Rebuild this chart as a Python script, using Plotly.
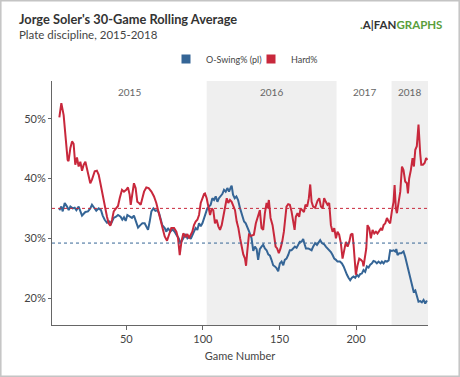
import plotly.graph_objects as go

# ---------------- data ----------------
oswing_games = [6.3, 7.6, 8.5, 9.8, 11.3, 12.4, 13.5, 15.0, 16.3, 17.4, 18.9, 20.0, 21.1, 22.2, 23.3, 25.0,
                26.5, 27.6, 29.1, 30.4, 32.0, 33.5, 34.6, 35.9, 37.4, 38.9, 40.2, 41.8, 43.3, 44.6, 46.3, 47.4,
                48.5, 49.6, 50.7, 52.2, 53.7, 55.0, 56.1, 57.7, 59.2, 60.5, 62.0, 63.3, 64.2, 65.3, 66.4, 67.7,
                69.0, 70.3, 71.4, 72.5, 73.5, 75.1, 76.2, 77.2, 78.8, 80.1, 81.6, 82.7, 84.2, 85.5, 87.0, 88.8,
                89.9, 91.0, 92.1, 93.1, 94.2, 95.3, 96.4, 97.5, 98.6, 99.7, 100.8, 101.8, 102.9, 104.0, 105.1,
                106.2, 107.3, 108.4, 109.5, 110.5, 111.6, 112.7, 113.8, 114.9, 116.0, 117.1, 118.2, 118.8, 119.7,
                120.8, 121.9, 123.0, 124.3, 125.8, 126.9, 128.0, 129.0, 130.1, 131.8, 132.9, 134.0, 135.1, 136.1,
                137.2, 138.3, 139.4, 140.5, 141.6, 142.7, 143.8, 144.8, 145.9, 147.0, 148.1, 149.2, 150.3, 151.4,
                152.5, 153.5, 154.6, 155.7, 156.8, 157.9, 159.0, 160.1, 161.2, 162.2, 163.3, 164.4, 165.5, 166.2,
                167.3, 168.8, 169.9, 171.0, 172.0, 173.3, 174.5, 175.5, 176.6, 177.7, 179.2, 180.3, 181.4, 182.5,
                183.6, 184.7, 185.8, 186.9, 187.9, 189.5, 190.8, 191.9, 193.0, 194.1, 195.1, 196.2, 197.3, 198.4,
                199.5, 200.6, 201.7, 202.7, 203.8, 204.9, 206.0, 207.1, 208.2, 209.3, 210.4, 211.4, 212.5, 213.6,
                214.7, 216.0, 216.9, 218.0, 219.1, 220.2, 221.3, 222.3, 223.4, 224.5, 225.6, 226.3, 227.1, 228.2,
                229.5, 231.0, 232.1, 233.2, 234.3, 235.4, 236.5, 237.6, 238.7, 239.7, 240.8, 241.9, 243.0, 244.1,
                245.2, 246.3]
oswing_pct = [34.7, 35.3, 34.5, 35.9, 35.3, 34.7, 35.3, 35.0, 35.1, 34.7, 35.3, 34.5, 33.8, 34.1, 34.4, 34.5,
              35.0, 35.6, 35.0, 34.6, 35.0, 34.7, 33.8, 33.1, 32.6, 32.8, 32.5, 33.4, 33.6, 33.9, 33.6, 33.1,
              33.5, 32.9, 33.9, 33.6, 33.4, 33.8, 32.9, 31.8, 32.2, 32.5, 32.5, 31.7, 31.4, 32.8, 34.5, 35.0,
              34.6, 34.7, 34.2, 33.2, 32.2, 31.7, 31.1, 31.7, 31.1, 31.5, 31.1, 30.6, 30.0, 29.2, 30.0, 30.7,
              30.0, 30.3, 29.9, 30.6, 31.1, 31.7, 31.4, 32.5, 32.0, 32.5, 33.4, 34.2, 35.0, 35.3, 35.6,
              36.7, 36.4, 37.0, 36.1, 36.7, 37.0, 37.4, 38.1, 37.8, 38.4, 37.8, 38.5, 38.8, 37.3,
              36.7, 37.0, 36.4, 35.0, 33.6, 32.8, 32.5, 32.0, 31.2, 30.0, 27.9, 28.6, 28.2, 26.4,
              28.2, 28.6, 28.9, 28.3, 28.0, 27.3, 27.1, 26.4, 25.5, 25.3, 25.0, 24.5, 25.8, 26.1,
              25.5, 26.4, 26.6, 27.2, 28.0, 28.0, 28.3, 28.6, 28.4, 28.9, 29.4, 29.4, 29.9, 29.2,
              28.3, 28.3, 28.2, 28.0, 28.6, 29.2, 28.9, 29.4, 29.7, 29.2, 29.0, 28.6, 28.3, 28.0,
              27.7, 27.2, 26.6, 26.4, 26.1, 26.1, 25.8, 25.3, 24.4, 23.9, 23.4, 23.0, 23.4, 23.6,
              23.4, 23.9, 23.6, 24.0, 24.1, 24.7, 24.4, 25.3, 25.1, 25.6, 25.8, 26.2, 26.1, 25.8,
              26.1, 25.8, 26.1, 25.8, 26.2, 26.1, 26.3, 28.0, 27.9, 28.0, 27.8, 28.2, 27.2, 27.5,
              27.5, 27.8, 26.9, 25.8, 24.4, 23.3, 22.2, 21.1, 21.3, 20.5, 19.4, 19.5, 19.3, 19.7,
              19.1, 19.6]

hard_games = [6.3, 7.6, 9.1, 10.6, 11.7, 12.3, 13.5, 14.6, 15.6, 16.7, 17.8, 18.9, 20.0, 21.1, 22.2, 23.3,
              24.4, 25.4, 26.5, 27.6, 29.4, 30.8, 32.0, 33.1, 34.1, 35.2, 36.3, 37.4, 38.5, 39.6, 40.7, 41.8,
              43.3, 44.6, 45.7, 47.2, 48.5, 50.0, 51.1, 52.2, 52.9, 54.0, 55.0, 56.1, 57.2, 58.3, 59.4, 60.5,
              61.6, 63.1, 64.6, 66.4, 68.1, 69.6, 71.1, 72.5, 74.0, 75.1, 76.6, 77.9, 79.4, 81.2, 82.7, 83.8,
              84.9, 86.0, 87.2, 88.8, 89.9, 91.0, 92.1, 93.1, 94.2, 95.3, 96.4, 97.5, 98.6, 99.7, 100.8, 101.4,
              102.5, 103.6, 104.7, 105.8, 106.8, 107.9, 109.0, 110.1, 111.2, 112.3, 113.4, 114.5, 115.6, 116.6,
              117.7, 118.8, 119.9, 121.0, 122.1, 123.2, 124.3, 125.3, 126.4, 127.5, 128.2, 129.0, 130.1, 131.5,
              133.3, 134.6, 136.1, 137.2, 138.3, 139.4, 140.5, 141.6, 142.2, 143.1, 144.2, 145.5, 146.6, 147.5,
              148.5, 149.6, 150.7, 151.8, 152.9, 153.8, 154.6, 155.7, 156.8, 157.9, 159.0, 159.9, 160.7, 161.8,
              162.9, 163.8, 164.9, 166.0, 167.0, 168.1, 169.2, 170.1, 171.0, 172.0, 173.3, 174.9, 176.0, 177.1,
              178.2, 179.2, 180.3, 181.4, 182.5, 183.6, 184.7, 185.8, 186.9, 187.9, 189.0, 190.1, 191.2, 192.3,
              193.4, 194.5, 195.6, 196.6, 197.7, 198.4, 199.3, 199.9, 201.0, 202.1, 203.2, 204.3, 204.9, 205.8,
              206.7, 207.5, 208.6, 209.7, 210.8, 211.9, 213.0, 214.0, 215.1, 216.4, 217.0, 218.0, 219.1, 220.2,
              221.3, 222.3, 223.4, 224.5, 225.2, 226.0, 226.7, 227.8, 228.9, 230.0, 231.0, 232.1, 233.2, 233.9,
              234.7, 235.8, 236.9, 237.8, 238.7, 239.7, 240.8, 241.9, 242.6, 243.7, 244.8, 245.8, 246.7]
hard_pct = [50.2, 52.6, 50.6, 46.7, 43.1, 42.9, 45.1, 46.2, 45.8, 42.3, 43.5, 42.0, 42.8, 41.3, 42.3, 42.8,
            41.7, 40.6, 39.2, 39.8, 41.2, 41.3, 40.6, 39.2, 37.8, 36.4, 35.0, 33.6, 32.5, 32.1, 33.1, 34.5,
            35.0, 35.4, 36.7, 38.1, 37.8, 38.1, 38.5, 37.3, 35.6, 37.8, 39.2, 38.4, 36.1, 35.9, 35.6, 36.7,
            37.8, 38.5, 38.4, 37.8, 37.0, 35.9, 34.5, 33.1, 31.4, 30.3, 29.6, 30.6, 31.7, 31.7, 31.1, 30.0,
            27.2, 29.4, 30.8, 30.3, 30.7, 30.0, 30.6, 31.1, 32.2, 32.8, 33.1, 33.9, 35.9, 36.7, 37.4, 37.5,
            36.7, 35.3, 33.9, 35.0, 34.7, 32.5, 33.1, 32.0, 31.4, 32.2, 33.9, 35.3, 36.7, 35.9,
            36.4, 36.1, 35.3, 34.7, 32.8, 31.7, 30.0, 28.6, 27.3, 26.6, 25.4, 27.8, 30.6, 30.4,
            30.6, 32.5, 33.9, 34.7, 31.7, 31.4, 34.2, 35.9, 35.0, 36.4, 33.4, 32.2, 30.3, 28.6,
            28.3, 27.5, 28.3, 29.4, 31.1, 33.1, 35.3, 35.7, 35.6, 34.5, 33.1, 31.4, 33.6, 34.2,
            33.6, 35.0, 34.7, 34.4, 35.6, 35.3, 36.7, 39.0, 36.1, 35.3, 35.1, 36.3, 36.7, 35.3,
            35.0, 36.7, 36.1, 35.6, 35.9, 32.2, 31.1, 31.7, 30.0, 31.1, 30.6, 29.2, 26.6, 28.0,
            29.4, 28.6, 29.4, 30.6, 30.8, 28.9, 26.1, 23.9, 25.5, 26.6, 26.4, 26.1, 25.3, 26.6,
            28.3, 32.2, 31.7, 30.0, 31.4, 30.8, 31.1, 30.8, 31.2, 31.7, 31.3, 32.2, 32.5, 33.4,
            32.8, 32.5, 34.5, 36.1, 38.9, 35.0, 34.2, 36.1, 37.8, 42.0, 41.4, 39.5, 39.2, 37.5,
            40.0, 41.4, 43.4, 42.0, 44.8, 45.4, 49.0, 44.2, 42.3, 42.3, 42.6, 43.4, 43.1]

oswing_avg = 29.2
hard_avg = 35.0

seasons = ["2015", "2016", "2017", "2018"]
season_start = [1.5, 102.5, 187.3, 223.2]
season_end = [102.5, 187.3, 223.2, 247.0]
season_shaded = [False, True, False, True]

x_ticks = [50, 100, 150, 200]
y_ticks = [20, 30, 40, 50]
y_tick_labels = [f"{v}%" for v in y_ticks]

series_names = ["O-Swing% (pl)", "Hard%"]
BLUE = "#356596"
RED = "#c8283c"
FONT = "Lato"

fig = go.Figure()

fig.add_trace(go.Scatter(x=oswing_games, y=oswing_pct, mode="lines", line=dict(color=BLUE, width=2),
                         showlegend=False, hoverinfo="skip"))
fig.add_trace(go.Scatter(x=hard_games, y=hard_pct, mode="lines", line=dict(color=RED, width=2),
                         showlegend=False, hoverinfo="skip"))
# legend swatches
for name, col in zip(series_names, [BLUE, RED]):
    fig.add_trace(go.Scatter(x=[None], y=[None], mode="markers", name=name,
                             marker=dict(symbol="square", size=9, color=col)))

shapes = []
for s0, s1, sh in zip(season_start, season_end, season_shaded):
    if sh:
        shapes.append(dict(type="rect", xref="x", yref="paper", x0=s0, x1=s1, y0=0, y1=1,
                           fillcolor="#efefef", line=dict(width=0), layer="below"))
shapes.append(dict(type="line", xref="paper", yref="y", x0=0, x1=1, y0=hard_avg, y1=hard_avg,
                   line=dict(color=RED, width=1, dash="dot")))
shapes.append(dict(type="line", xref="paper", yref="y", x0=0, x1=1, y0=oswing_avg, y1=oswing_avg,
                   line=dict(color=BLUE, width=1, dash="dot")))
# outer frame
shapes.append(dict(type="rect", xref="paper", yref="paper",
                   x0=-51.2 / 376, x1=407.2 / 376, y0=-51.2 / 244, y1=324.2 / 244,
                   line=dict(color="#c4c4c4", width=1.5), fillcolor="rgba(0,0,0,0)"))

annotations = []
for name, s0, s1 in zip(seasons, season_start, season_end):
    annotations.append(dict(x=(s0 + s1) / 2, y=0.955, xref="x", yref="paper", text=name,
                            showarrow=False, font=dict(family=FONT, size=10, color="#666"),
                            xanchor="center", yanchor="middle"))
annotations.append(dict(x=-35 / 376, y=(325 - 35) / 244, xref="paper", yref="paper",
                        text="Plate discipline, 2015-2018", showarrow=False,
                        font=dict(family=FONT, size=11.5, color="#444"), xanchor="left", yanchor="middle"))
annotations.append(dict(x=392 / 376, y=(325 - 24) / 244, xref="paper", yref="paper",
                        text="<b><span style='color:#5a9e3c'>.</span>A|FAN<span style='color:#5a9e3c'>GRAPHS</span></b>",
                        showarrow=False, font=dict(family=FONT, size=11.5, color="#333"),
                        xanchor="right", yanchor="middle"))

fig.update_layout(
    width=460, height=377,
    margin=dict(l=52, r=32, t=81, b=52),
    paper_bgcolor="white", plot_bgcolor="white",
    font=dict(family=FONT, color="#444"),
    title=dict(text="<b>Jorge Soler's 30-Game Rolling Average</b>", x=19 / 460, xref="container",
               xanchor="left", y=1 - 19.5 / 377, yref="container", yanchor="middle",
               font=dict(family=FONT, size=12.8, color="#333")),
    legend=dict(orientation="h", x=(166 - 52) / 376, xanchor="left", y=(325 - 59) / 244,
                yanchor="middle", font=dict(family=FONT, size=9, color="#444"),
                itemwidth=30, entrywidth=40, entrywidthmode="pixels", bgcolor="rgba(0,0,0,0)"),
    xaxis=dict(range=[1.5, 247], tickvals=x_ticks, ticks="outside", ticklen=4, tickcolor="#666",
               showline=True, linecolor="#666", linewidth=1, showgrid=False, zeroline=False,
               tickfont=dict(family=FONT, size=11, color="#444"),
               title=dict(text="Game Number", font=dict(family=FONT, size=11, color="#444"), standoff=8)),
    yaxis=dict(range=[15.5, 56.3], tickvals=y_ticks, ticktext=y_tick_labels, ticks="outside", ticklen=3,
               tickcolor="#666", showline=True, linecolor="#666", linewidth=1, showgrid=False,
               zeroline=False, tickfont=dict(family=FONT, size=11, color="#444")),
    shapes=shapes,
    annotations=annotations,
)

fig.write_html("out.html", config={"displayModeBar": False},
               post_script="document.body.style.margin='0px';")
